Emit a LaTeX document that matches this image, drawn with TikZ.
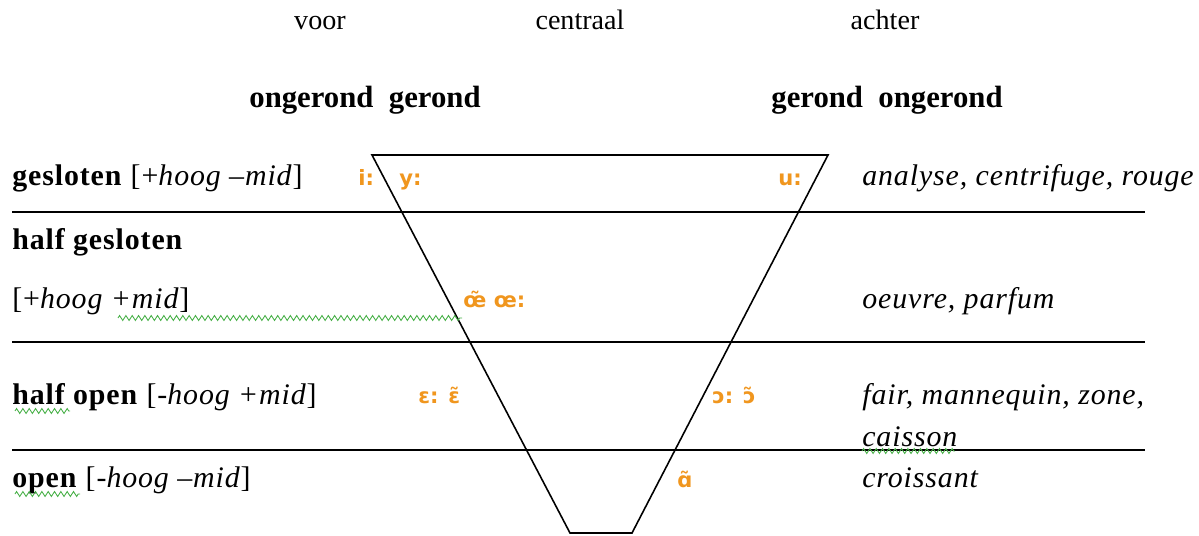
\documentclass[tikz,border=0pt]{standalone}
\usepackage{fontspec}
\setmainfont{Liberation Serif}
\newfontfamily\rowfont{Liberation Serif}[LetterSpace=3]
\newfontfamily\ipafont{DejaVu Sans}
\usetikzlibrary{positioning, decorations.pathmorphing}
\definecolor{vowelorange}{RGB}{240,150,30}
\definecolor{spellgreen}{RGB}{70,175,70}

\tikzset{
  head/.style={anchor=base, inner sep=0pt, font=\fontsize{16}{18}\selectfont},
  rowlabel/.style={anchor=base west, inner sep=0pt, font=\rowfont\fontsize{17}{19}\selectfont},
  example/.style={anchor=base west, inner sep=0pt, font=\rowfont\fontsize{17}{19}\selectfont\itshape},
  vowel/.style={anchor=base west, inner sep=0pt, text=vowelorange, font=\ipafont\bfseries\fontsize{12}{14}\selectfont},
  rule/.style={line width=0.9pt},
  squiggle/.style={spellgreen, line width=0.5pt, decorate, decoration={zigzag, amplitude=1.4pt, segment length=3.6pt}}
}

\begin{document}
\begin{tikzpicture}[x=0.02cm, y=-0.02cm]
    \useasboundingbox (0,0) rectangle (1199,536);

    % Column heads
    \node[head] (voor) at (320,30) {voor};
    \node[head] (centraal) at (580,30) {centraal};
    \node[head] (achter) at (885,30) {achter};
    \node[head, font=\fontsize{17.5}{19}\selectfont\bfseries] (rondvoor) at (365,108) {ongerond\ \ gerond};
    \node[head, font=\fontsize{17.5}{19}\selectfont\bfseries] (rondachter) at (887,108) {gerond\ \ ongerond};

    % Rows
    \foreach \y in {212,342,450} {
        \draw[rule] (12,\y) -- (1145,\y);
    }

    % Trapezium
    \draw[rule] (372,155) -- (828,155) -- (632,533) -- (570,533) -- cycle;

    % Row labels
    \node[rowlabel] (gesloten) at (12,186) {\textbf{gesloten} [+\textit{hoog –mid}]};
    \node[rowlabel] (halfgesl) at (12,250) {\textbf{half gesloten}};
    \node[rowlabel] (halfgeslkenm) at (12,309) {[+\textit{hoog +mid}]};
    \node[rowlabel] (halfopen) at (12,404) {\textbf{half open} [-\textit{hoog +mid}]};
    \node[rowlabel] (open) at (12,487) {\textbf{open} [-\textit{hoog –mid}]};

    % Examples
    \node[example] (vbgesl) at (862,186) {analyse, centrifuge, rouge};
    \node[example] (vbhalfgesl) at (862,309) {oeuvre, parfum};
    \node[example] (vbhalfopen) at (862,404) {fair, mannequin, zone,};
    \node[example] (vbhalfopentwee) at (862,446) {caisson};
    \node[example] (vbopen) at (862,487) {croissant};

    % Vowels
    \node[vowel] (ii) at (358,186) {i:};
    \node[vowel] (yy) at (399,186) {y:};
    \node[vowel] (uu) at (778,186) {u:};
    \node[vowel] (oe) at (463,308) {œ̃ œ:};
    \node[vowel] (ee) at (418,403) {ɛ: ɛ̃};
    \node[vowel] (oo) at (712,403) {ɔ: ɔ̃};
    \node[vowel] (aa) at (677,487) {ɑ̃};

    % spelling marks
    \draw[squiggle] (118,318) -- (462,318);
    \draw[squiggle] (15,411) -- (70,411);
    \draw[squiggle] (15,494) -- (80,494);
    \draw[squiggle] (862,451) -- (955,451);
\end{tikzpicture}
\end{document}
